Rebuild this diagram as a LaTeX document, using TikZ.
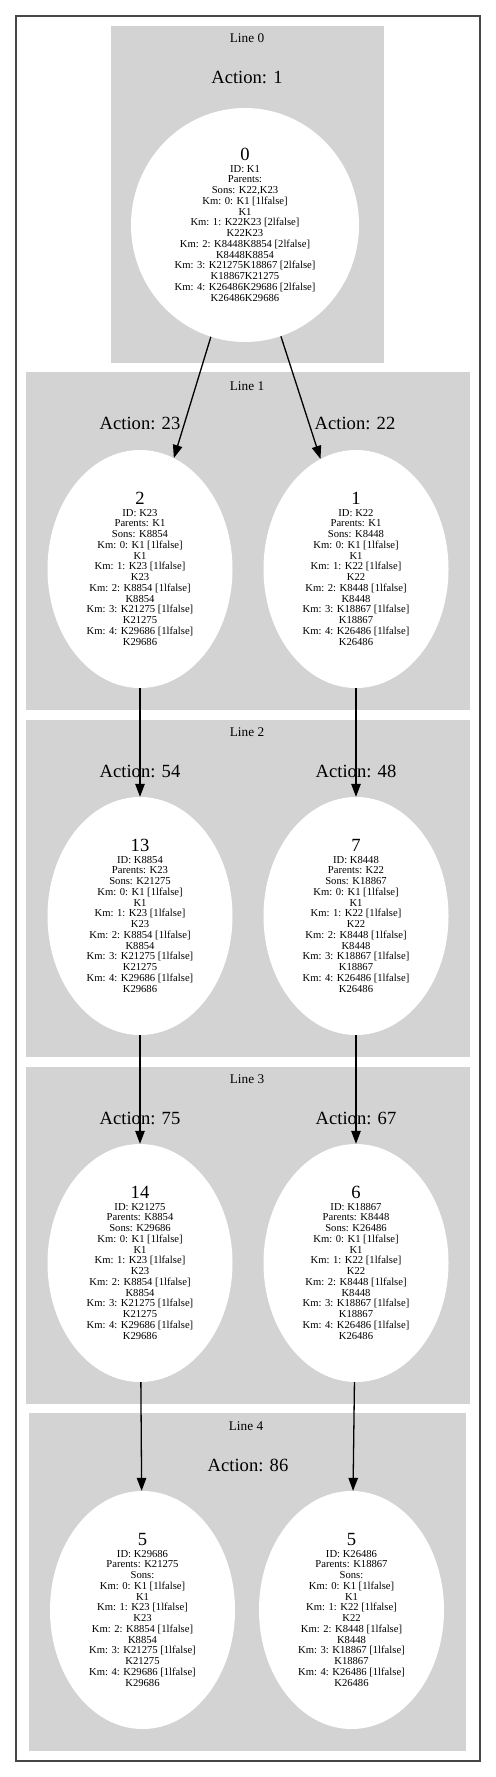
\documentclass[tikz,border=0pt]{standalone}
\usepackage{fontspec}
\setmainfont{Liberation Serif}
\usepackage{xcolor}
\usetikzlibrary{shapes.geometric,arrows.meta}
\definecolor{clustergrey}{RGB}{211,211,211}
\definecolor{framegrey}{RGB}{70,70,70}

\tikzset{
  cluster/.style={fill=clustergrey},
  kmnode/.style={ellipse,fill=white,inner sep=0pt,align=center,
    font=\fontsize{10.67}{10.8}\selectfont,minimum width=185bp,minimum height=238bp},
  linelabel/.style={font=\fontsize{13.33}{15}\selectfont},
  actlabel/.style={font=\fontsize{18.67}{20}\selectfont},
  kmarrow/.style={-{Triangle[length=13bp,width=9.5bp]},line width=1.3bp}
}
\newcommand{\bignum}[1]{{\fontsize{18.67}{20}\selectfont #1}\\[0.4bp]}

\begin{document}
\begin{tikzpicture}[x=1bp,y=-1bp]
        \useasboundingbox (0,0) rectangle (496,1777);
        \draw[framegrey,line width=1.3bp] (16,16) rectangle (480,1761);
        \fill[cluster] (111,26) rectangle (384,363);
        \fill[cluster] (26,372) rectangle (470,710);
        \fill[cluster] (26,720) rectangle (470,1057);
        \fill[cluster] (26,1067) rectangle (470,1404);
        \fill[cluster] (29,1413) rectangle (466,1751);

        \node[linelabel] (line0) at (247,38) {Line 0};
        \node[actlabel] (act1) at (247,77) {Action: 1};
        \node[kmnode,minimum width=228bp,minimum height=234bp] (k1) at (245,225) {\bignum{0}ID: K1\\Parents:\\Sons: K22,K23\\Km: 0: K1 [1lfalse]\\K1\\Km: 1: K22K23 [2lfalse]\\K22K23\\Km: 2: K8448K8854 [2lfalse]\\K8448K8854\\Km: 3: K21275K18867 [2lfalse]\\K18867K21275\\Km: 4: K26486K29686 [2lfalse]\\K26486K29686};

        \node[linelabel] (line1) at (247,386) {Line 1};
        \node[actlabel] (act23) at (140,423) {Action: 23};
        \node[actlabel] (act22) at (355,423) {Action: 22};
        \node[kmnode] (k23) at (140,569) {\bignum{2}ID: K23\\Parents: K1\\Sons: K8854\\Km: 0: K1 [1lfalse]\\K1\\Km: 1: K23 [1lfalse]\\K23\\Km: 2: K8854 [1lfalse]\\K8854\\Km: 3: K21275 [1lfalse]\\K21275\\Km: 4: K29686 [1lfalse]\\K29686};
        \node[kmnode] (k22) at (356,569) {\bignum{1}ID: K22\\Parents: K1\\Sons: K8448\\Km: 0: K1 [1lfalse]\\K1\\Km: 1: K22 [1lfalse]\\K22\\Km: 2: K8448 [1lfalse]\\K8448\\Km: 3: K18867 [1lfalse]\\K18867\\Km: 4: K26486 [1lfalse]\\K26486};

        \node[linelabel] (line2) at (247,732) {Line 2};
        \node[actlabel] (act54) at (140,771) {Action: 54};
        \node[actlabel] (act48) at (356,771) {Action: 48};
        \node[kmnode] (k8854) at (140,916) {\bignum{13}ID: K8854\\Parents: K23\\Sons: K21275\\Km: 0: K1 [1lfalse]\\K1\\Km: 1: K23 [1lfalse]\\K23\\Km: 2: K8854 [1lfalse]\\K8854\\Km: 3: K21275 [1lfalse]\\K21275\\Km: 4: K29686 [1lfalse]\\K29686};
        \node[kmnode] (k8448) at (356,916) {\bignum{7}ID: K8448\\Parents: K22\\Sons: K18867\\Km: 0: K1 [1lfalse]\\K1\\Km: 1: K22 [1lfalse]\\K22\\Km: 2: K8448 [1lfalse]\\K8448\\Km: 3: K18867 [1lfalse]\\K18867\\Km: 4: K26486 [1lfalse]\\K26486};

        \node[linelabel] (line3) at (247,1079) {Line 3};
        \node[actlabel] (act75) at (140,1118) {Action: 75};
        \node[actlabel] (act67) at (356,1118) {Action: 67};
        \node[kmnode] (k21275) at (140,1263) {\bignum{14}ID: K21275\\Parents: K8854\\Sons: K29686\\Km: 0: K1 [1lfalse]\\K1\\Km: 1: K23 [1lfalse]\\K23\\Km: 2: K8854 [1lfalse]\\K8854\\Km: 3: K21275 [1lfalse]\\K21275\\Km: 4: K29686 [1lfalse]\\K29686};
        \node[kmnode] (k18867) at (356,1263) {\bignum{6}ID: K18867\\Parents: K8448\\Sons: K26486\\Km: 0: K1 [1lfalse]\\K1\\Km: 1: K22 [1lfalse]\\K22\\Km: 2: K8448 [1lfalse]\\K8448\\Km: 3: K18867 [1lfalse]\\K18867\\Km: 4: K26486 [1lfalse]\\K26486};

        \node[linelabel] (line4) at (246,1426) {Line 4};
        \node[actlabel] (act86) at (248,1465) {Action: 86};
        \node[kmnode] (k29686) at (142.5,1610) {\bignum{5}ID: K29686\\Parents: K21275\\Sons:\\Km: 0: K1 [1lfalse]\\K1\\Km: 1: K23 [1lfalse]\\K23\\Km: 2: K8854 [1lfalse]\\K8854\\Km: 3: K21275 [1lfalse]\\K21275\\Km: 4: K29686 [1lfalse]\\K29686};
        \node[kmnode] (k26486) at (351.5,1610) {\bignum{5}ID: K26486\\Parents: K18867\\Sons:\\Km: 0: K1 [1lfalse]\\K1\\Km: 1: K22 [1lfalse]\\K22\\Km: 2: K8448 [1lfalse]\\K8448\\Km: 3: K18867 [1lfalse]\\K18867\\Km: 4: K26486 [1lfalse]\\K26486};

        \draw[kmarrow] (k1)--(k23);
        \draw[kmarrow] (k1)--(k22);
        \draw[kmarrow] (k23)--(k8854);
        \draw[kmarrow] (k22)--(k8448);
        \draw[kmarrow] (k8854)--(k21275);
        \draw[kmarrow] (k8448)--(k18867);
        \draw[kmarrow] (k21275)--(k29686);
        \draw[kmarrow] (k18867)--(k26486);
      \end{tikzpicture}
\end{document}
